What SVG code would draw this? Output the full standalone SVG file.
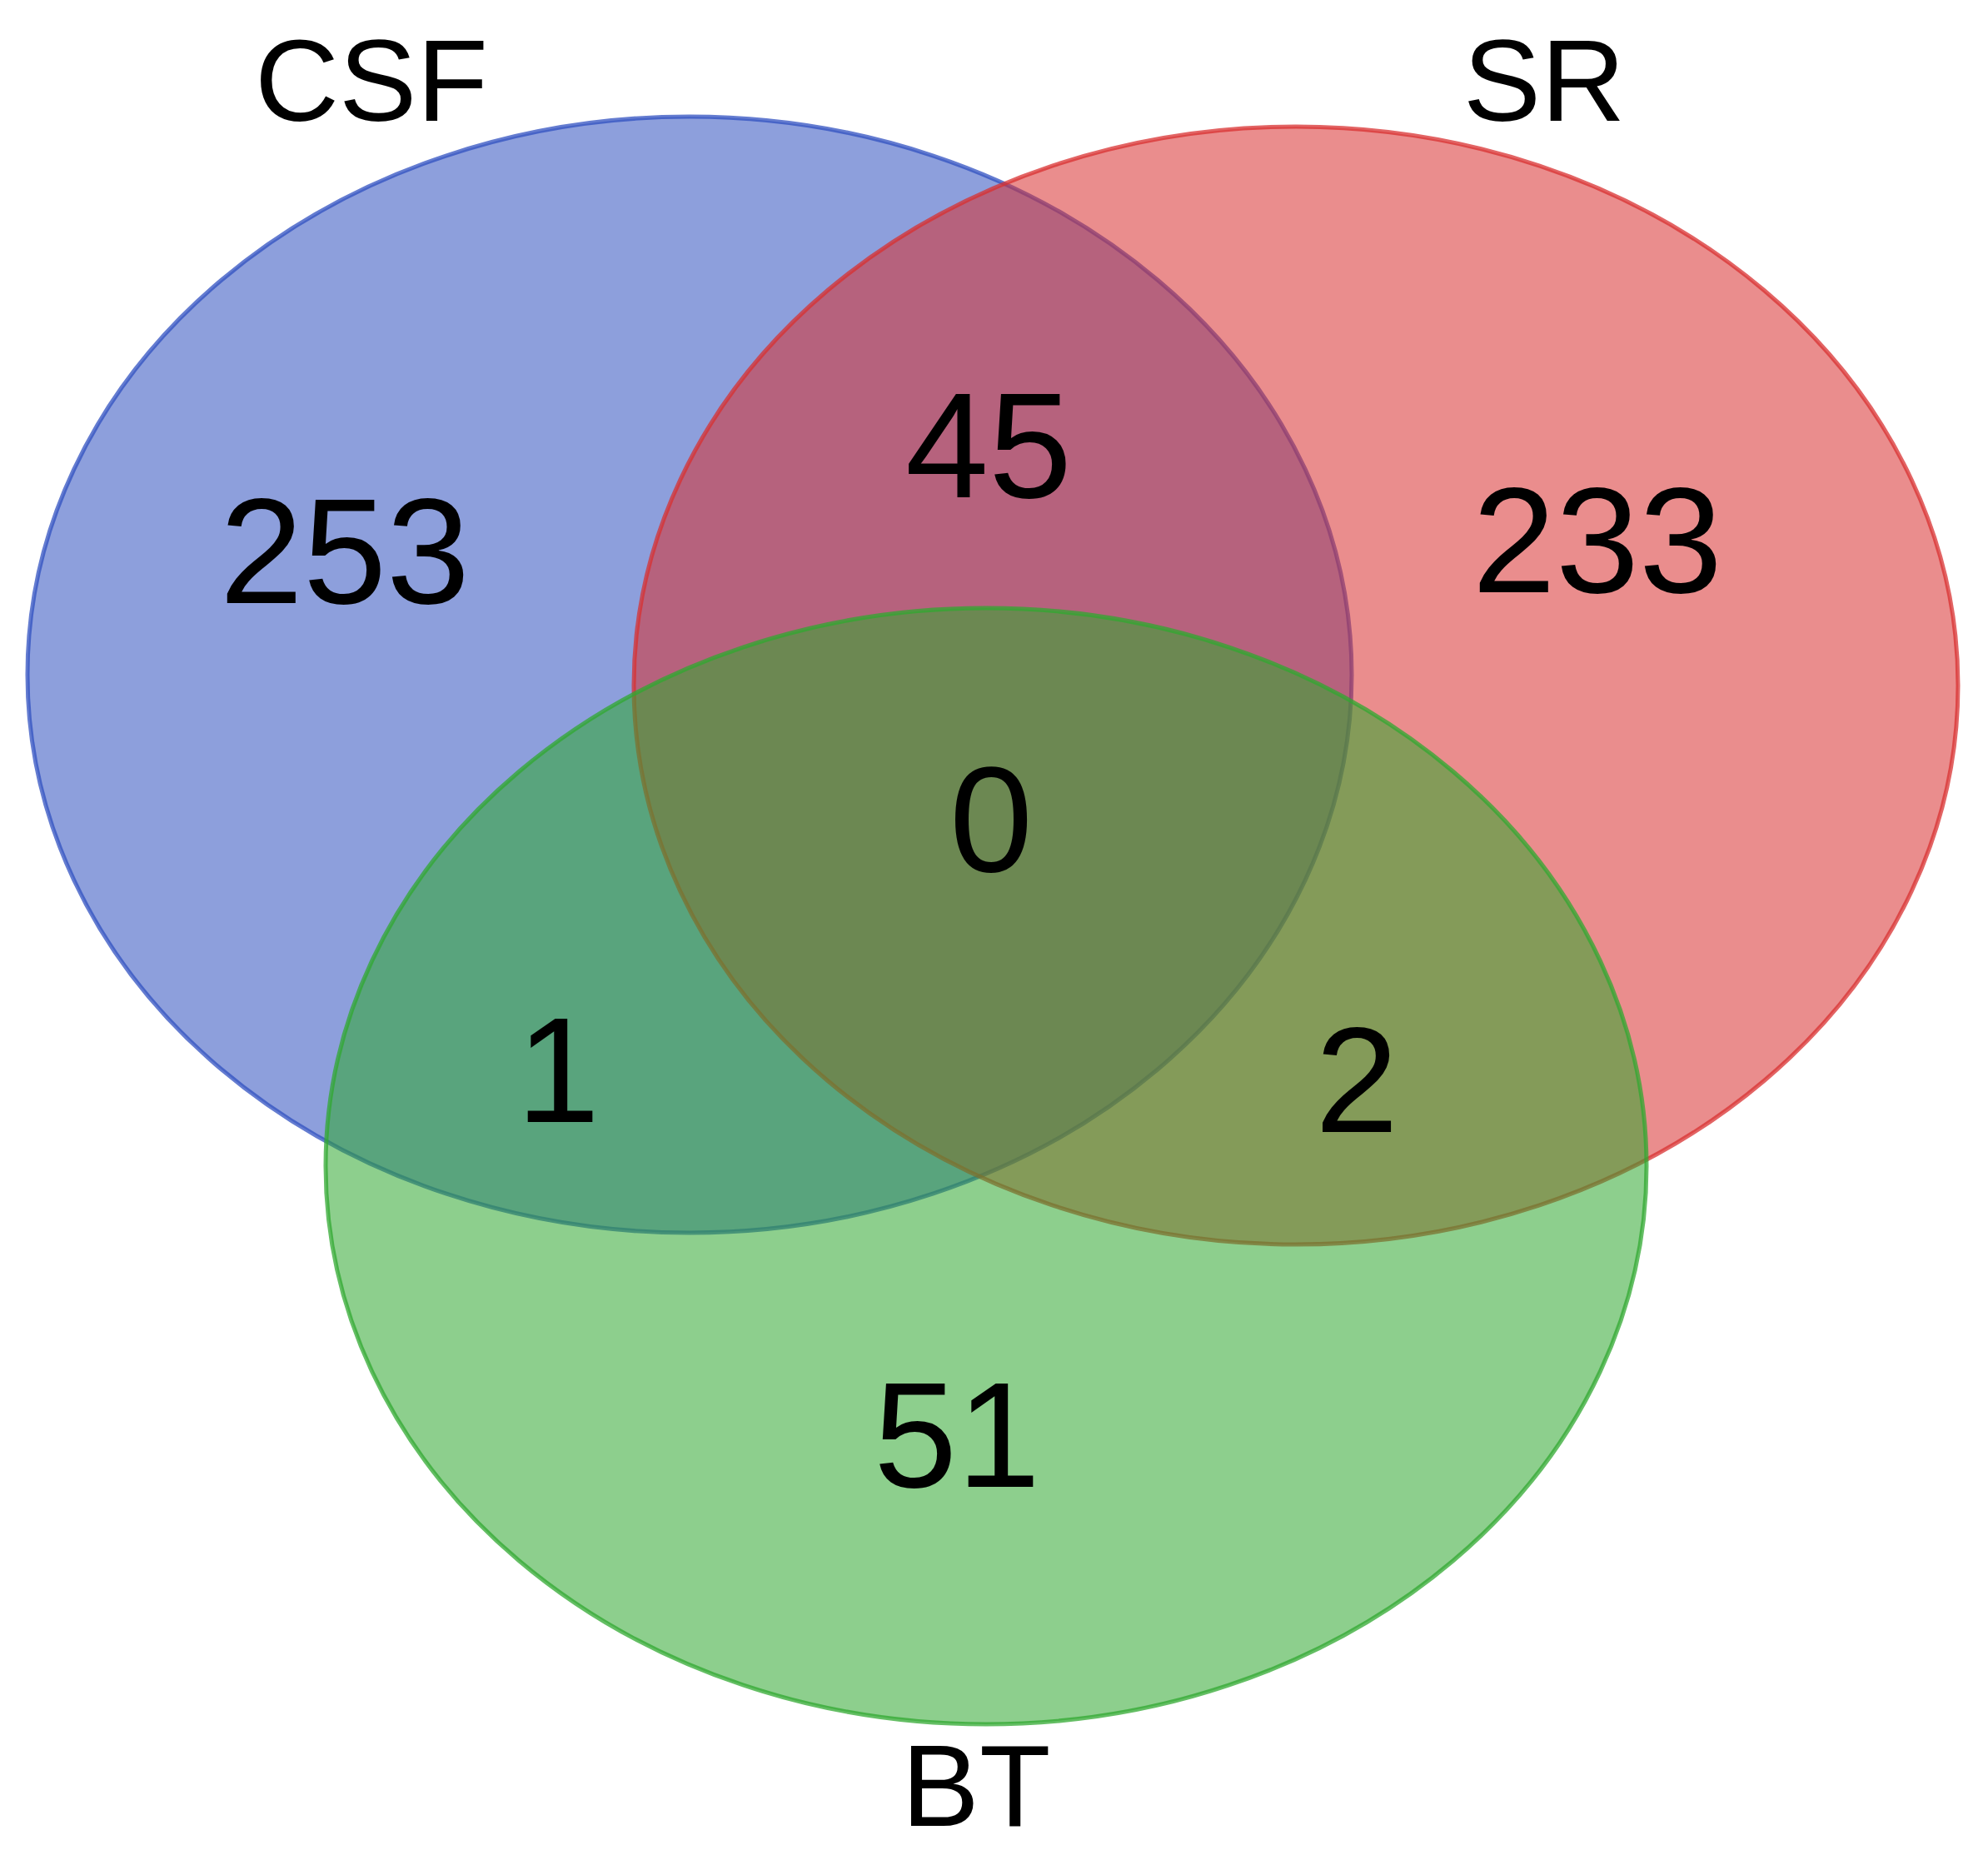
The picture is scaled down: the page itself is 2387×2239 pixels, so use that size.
<svg xmlns="http://www.w3.org/2000/svg" width="2387" height="2239" viewBox="0 0 2387 2239">
<style>
.set{stroke-width:5;fill-opacity:0.55;stroke-opacity:0.75}
.lab{font-family:"Liberation Sans",Arial,sans-serif;font-size:140px;fill:#000;text-anchor:middle}
.num{font-family:"Liberation Sans",Arial,sans-serif;font-size:180px;fill:#000;text-anchor:middle}
</style>
<rect width="2387" height="2239" fill="#fff"/>
<g id="CSF"><ellipse class="set" cx="828" cy="810" rx="795" ry="670" fill="#3050C0" stroke="#3050C0"/></g>
<g id="SR"><ellipse class="set" cx="1556" cy="823" rx="795" ry="671" fill="#D83030" stroke="#D83030"/></g>
<g id="BT"><ellipse class="set" cx="1184" cy="1400" rx="793" ry="670" fill="#30A830" stroke="#30A830"/></g>
<g id="labels">
<text class="lab" x="446" y="145">CSF</text>
<text class="lab" x="1854" y="145">SR</text>
<text class="lab" x="1172" y="2192">BT</text>
<text class="num" x="414" y="724">253</text>
<text class="num" x="1187" y="597">45</text>
<text class="num" x="1918" y="711">233</text>
<text class="num" x="1190" y="1046">0</text>
<text class="num" x="670" y="1347">1</text>
<text class="num" x="1629" y="1359">2</text>
<text class="num" x="1149" y="1785">51</text>
</g>
</svg>
